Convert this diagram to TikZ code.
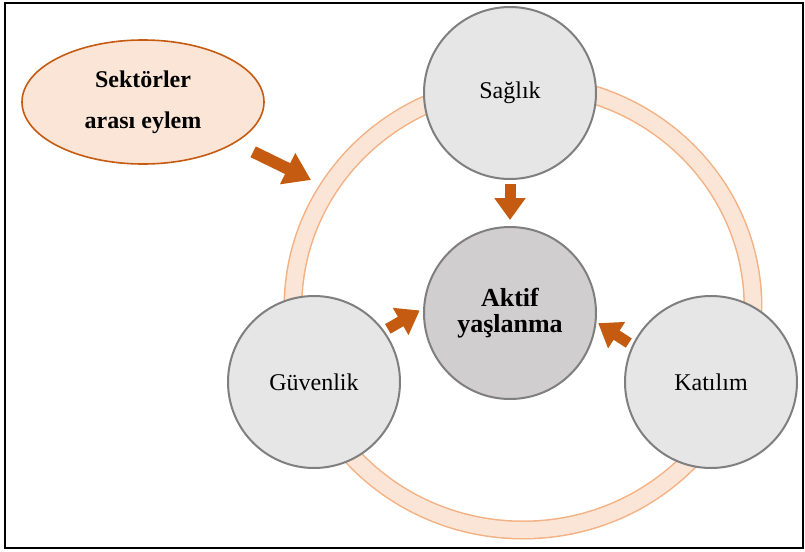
\documentclass[tikz,border=0pt]{standalone}
\usepackage{fontspec}
\setmainfont{Liberation Serif}
\usetikzlibrary{arrows.meta,shapes.geometric}

\definecolor{rust}{HTML}{C55A11}
\definecolor{peach}{HTML}{FBE5D6}
\definecolor{peachedge}{HTML}{F4B183}
\definecolor{ballgrey}{HTML}{E6E6E6}
\definecolor{coregrey}{HTML}{D0CECE}
\definecolor{rimgrey}{HTML}{7F7F7F}

\tikzset{
	ball/.style={circle, draw=rimgrey, line width=1pt, fill=ballgrey, minimum size=86pt, inner sep=0pt, align=center, font=\fontsize{12}{14}\selectfont},
	push/.style={rust, line width=5.5pt, -{Triangle[width=15pt,length=11pt]}},
}

\begin{document}
\begin{tikzpicture}[x=0.5pt, y=-0.5pt]
	\useasboundingbox (0,0) rectangle (805,552);
	%frame
	\draw[line width=1.1pt] (5,3) rectangle (803,548);
	%ring
	\draw[peachedge, line width=9.5pt] (523,307) ellipse (230 and 223);
	\draw[peach, line width=8pt] (523,307) ellipse (230 and 223);
	%circles
	\node[ball] (saglik) at (510,93) {Sağlık};
	\node[ball, fill=coregrey, font=\bfseries\fontsize{13}{12.8}\selectfont] (aktif) at (510,313) {Aktif\\yaşlanma};
	\node[ball] (guvenlik) at (314,382) {Güvenlik};
	\node[ball] (katilim) at (711,382) {Katılım};
	%ellipse left
	\node[ellipse, draw=rust, line width=0.8pt, fill=peach, minimum width=121pt, minimum height=62pt, align=center, font=\bfseries\fontsize{12}{20.5}\selectfont] (sektor) at (143,102) {Sektörler\\arası eylem};
	\coordinate (ringhit) at (311,180);
	%arrows
	\draw[push, line width=6pt, -{Triangle[width=16.5pt,length=13pt]}, shorten <=10pt] (sektor.-24) -- (ringhit);
	\draw[push, shorten <=2pt, shorten >=3pt] (saglik) -- (aktif);
	\draw[push, shorten <=2pt, shorten >=2pt] (guvenlik.36) -- (aktif.177);
	\draw[push, shorten <=2pt, shorten >=1pt] (katilim.155) -- (aktif.354);
\end{tikzpicture}
\end{document}
